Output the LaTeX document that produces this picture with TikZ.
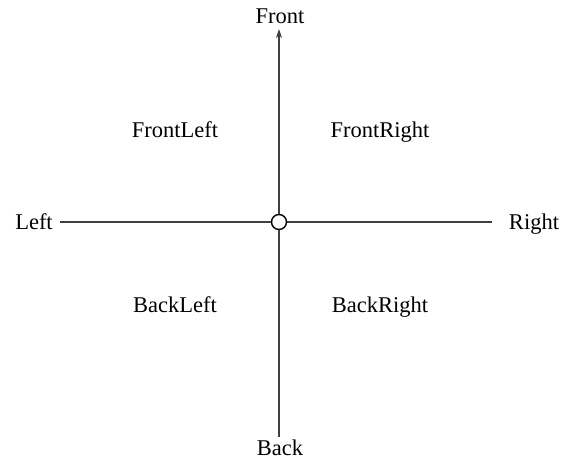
\documentclass[tikz,border=0pt]{standalone}
\usepackage{fontspec}
\setmainfont{Liberation Serif}
\usetikzlibrary{arrows.meta}
\begin{document}
\begin{tikzpicture}[x=1pt,y=-1pt,
  lbl/.style={font=\fontsize{22.5}{27}\selectfont, inner sep=0pt, anchor=base},
  axis/.style={line width=1.2pt, draw=black!75}]
\useasboundingbox (0,0) rectangle (563,461);
\node[draw, circle, line width=1.4pt, minimum size=15pt, inner sep=0pt] (c) at (279,222) {};
\node[lbl] (front) at (280,23) {Front};
\node[lbl] (back) at (280,455) {Back};
\node[lbl] (left) at (34,229) {Left};
\node[lbl] (right) at (534,229) {Right};
\node[lbl] (fl) at (175,137) {FrontLeft};
\node[lbl] (fr) at (380,137) {FrontRight};
\node[lbl] (bl) at (175,312) {BackLeft};
\node[lbl] (br) at (380,312) {BackRight};
\coordinate (ftip) at (279,29);
\coordinate (bend) at (279,437);
\coordinate (lend) at (60,222);
\coordinate (rend) at (492,222);
\draw[axis, -{Stealth[length=9pt,width=6pt]}] (c.north) -- (ftip);
\draw[axis] (c.south) -- (bend);
\draw[axis] (c.west) -- (lend);
\draw[axis] (c.east) -- (rend);
\end{tikzpicture}
\end{document}
